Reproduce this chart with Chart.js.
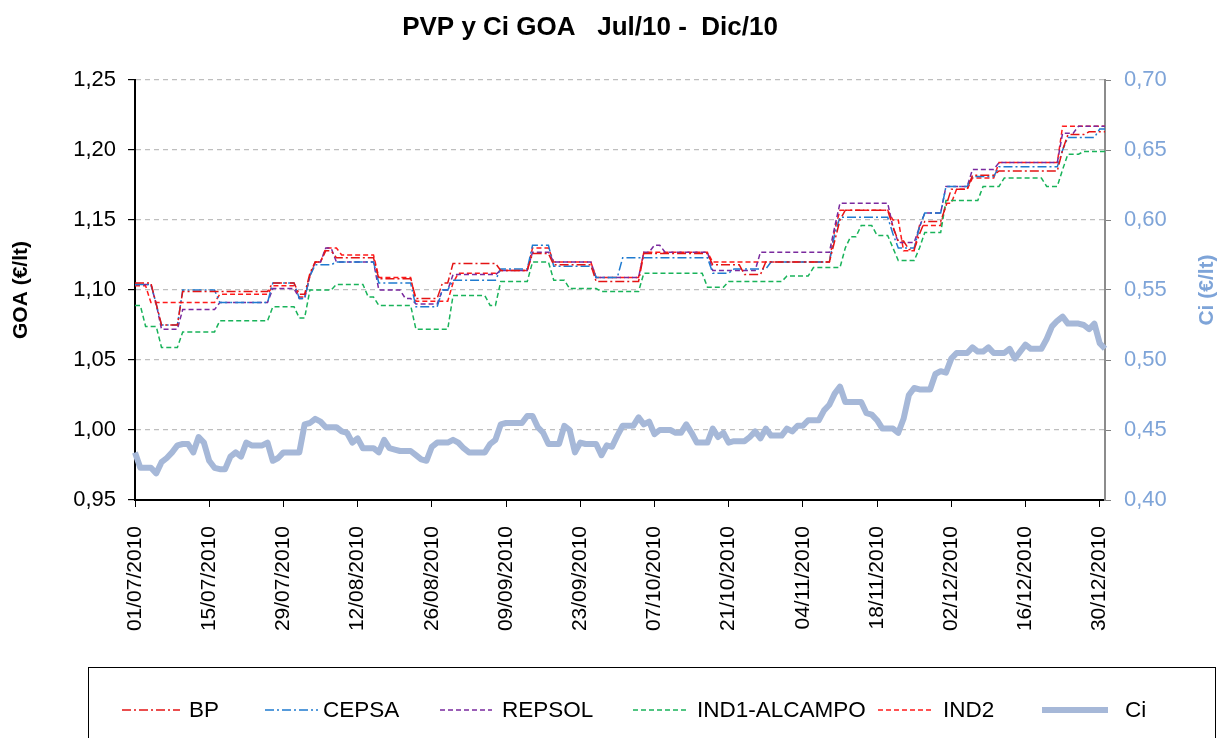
<!DOCTYPE html>
<html>
<head>
<meta charset="utf-8">
<script src="https://cdn.jsdelivr.net/npm/chart.js@4.4.1/dist/chart.umd.min.js"></script>
<style>
  body { margin: 0; background: #fff; }
</style>
</head>
<body>
<canvas id="chart" width="1229" height="738"></canvas>
<script>
// price steps: [day index from 01/07/2010, €/lt]
const bpSteps = [[0,1.105],[4,1.090],[5,1.075],[9,1.099],[26,1.105],[31,1.097],[33,1.112],[34,1.120],[36,1.128],[38,1.123],[46,1.108],[53,1.094],[58,1.105],[60,1.119],[69,1.114],[75,1.126],[79,1.118],[87,1.106],[96,1.126],[109,1.118],[115,1.111],[119,1.120],[132,1.135],[133,1.150],[134,1.157],[143,1.145],[144,1.135],[146,1.129],[148,1.140],[149,1.149],[153,1.160],[154,1.172],[158,1.182],[163,1.185],[175,1.200],[176,1.211],[180,1.213]];
const cepsaSteps = [[0,1.104],[4,1.090],[5,1.075],[9,1.100],[16,1.091],[26,1.105],[31,1.094],[33,1.110],[34,1.118],[38,1.120],[46,1.105],[53,1.088],[58,1.100],[60,1.107],[69,1.115],[75,1.132],[79,1.117],[87,1.109],[92,1.123],[109,1.112],[113,1.115],[120,1.120],[132,1.140],[133,1.152],[143,1.140],[144,1.130],[148,1.145],[149,1.155],[153,1.174],[158,1.181],[163,1.188],[175,1.200],[176,1.209],[182,1.215]];
const repsolSteps = [[0,1.104],[4,1.090],[5,1.072],[9,1.086],[16,1.091],[26,1.101],[31,1.094],[33,1.110],[34,1.120],[36,1.130],[38,1.120],[46,1.100],[51,1.094],[53,1.090],[58,1.100],[60,1.111],[69,1.114],[75,1.127],[79,1.120],[87,1.109],[96,1.127],[98,1.132],[100,1.127],[109,1.114],[118,1.127],[132,1.145],[133,1.162],[143,1.145],[144,1.134],[148,1.145],[149,1.155],[153,1.174],[158,1.186],[163,1.191],[175,1.212],[178,1.217]];
const ind1Steps = [[0,1.089],[2,1.074],[5,1.059],[9,1.070],[16,1.078],[26,1.088],[31,1.080],[33,1.100],[38,1.104],[44,1.095],[46,1.089],[53,1.072],[60,1.096],[67,1.089],[69,1.106],[75,1.120],[79,1.107],[82,1.101],[88,1.099],[96,1.112],[108,1.102],[112,1.106],[123,1.110],[128,1.116],[134,1.130],[135,1.138],[137,1.146],[140,1.139],[143,1.130],[144,1.121],[148,1.130],[149,1.141],[153,1.164],[160,1.174],[164,1.180],[172,1.174],[175,1.186],[176,1.197],[179,1.199]];
const ind2Steps = [[0,1.103],[3,1.091],[16,1.097],[26,1.103],[31,1.095],[33,1.110],[34,1.120],[36,1.130],[39,1.125],[46,1.109],[53,1.092],[60,1.105],[61,1.112],[69,1.114],[75,1.130],[79,1.120],[87,1.109],[96,1.127],[109,1.120],[132,1.143],[133,1.157],[143,1.150],[145,1.128],[148,1.146],[153,1.162],[155,1.172],[158,1.180],[163,1.191],[175,1.217]];

// Ci daily values (right axis)
const ciValues = [
  0.434,0.423,0.423,0.423,0.419,0.427,0.430,0.434,0.439,0.440,0.440,0.434,0.445,0.441,0.428,0.423,0.422,0.422,0.431,0.434,
  0.431,0.441,0.439,0.439,0.439,0.441,0.428,0.430,0.434,0.434,0.434,0.434,0.454,0.455,0.458,0.456,0.452,0.452,0.452,0.449,
  0.448,0.441,0.444,0.437,0.437,0.437,0.434,0.443,0.437,0.436,0.435,0.435,0.435,0.432,0.429,0.428,0.438,0.441,0.441,0.441,
  0.443,0.441,0.437,0.434,0.434,0.434,0.434,0.440,0.443,0.454,0.455,0.455,0.455,0.455,0.460,0.460,0.452,0.448,0.440,0.440,
  0.440,0.453,0.450,0.434,0.441,0.440,0.440,0.440,0.432,0.439,0.438,0.446,0.453,0.453,0.453,0.459,0.454,0.456,0.447,0.450,
  0.450,0.450,0.448,0.448,0.454,0.448,0.441,0.441,0.441,0.451,0.445,0.448,0.441,0.442,0.442,0.442,0.445,0.449,0.444,0.451,
  0.446,0.446,0.446,0.451,0.449,0.453,0.453,0.457,0.457,0.457,0.464,0.468,0.476,0.481,0.470,0.470,0.470,0.470,0.462,0.461,
  0.457,0.451,0.451,0.451,0.448,0.458,0.475,0.480,0.479,0.479,0.479,0.490,0.492,0.491,0.501,0.505,0.505,0.505,0.509,0.506,
  0.506,0.509,0.505,0.505,0.505,0.508,0.501,0.506,0.511,0.508,0.508,0.508,0.515,0.524,0.528,0.531,0.526,0.526,0.526,0.525,
  0.522,0.526,0.512,0.508
];

const startDate = Date.UTC(2010, 6, 1);
const numDays = ciValues.length;
const tickEvery = 14;

const pad = n => String(n).padStart(2, "0");
const dayLabels = [];
for (let i = 0; i < numDays; i++) {
  const d = new Date(startDate + i * 86400000);
  dayLabels.push(pad(d.getUTCDate()) + "/" + pad(d.getUTCMonth() + 1) + "/" + d.getUTCFullYear());
}

// turn the step lists into one value per day
function fromSteps(steps) {
  const out = [];
  let k = 0;
  for (let i = 0; i < numDays; i++) {
    while (k + 1 < steps.length && steps[k + 1][0] <= i) k++;
    out.push(steps[k][1]);
  }
  return out;
}

const comma = v => v.toFixed(2).replace(".", ",");
const FONT = "'Liberation Sans', Arial, sans-serif";
const CI_BLUE = "#7EA4D8";

// title, legend box under the axis and right axis title (bottom-to-top, as excel does)
const extras = {
  id: "extras",
  afterDraw(chart) {
    const ctx = chart.ctx;
    ctx.save();
    ctx.fillStyle = "#000";
    ctx.font = "bold 26px " + FONT;
    ctx.textAlign = "center";
    ctx.textBaseline = "middle";
    ctx.fillText("PVP y Ci GOA   Jul/10 -  Dic/10", 590, 28);

    const spots = [[122, 180, 189], [265, 318, 323], [440, 492, 502], [633, 688, 697], [878, 932, 943], [1042, 1108, 1125]];
    ctx.textAlign = "left";
    ctx.strokeStyle = "#000";
    ctx.lineWidth = 1;
    ctx.strokeRect(88.5, 667.5, 1127, 100);
    ctx.font = "22.5px " + FONT;
    chart.data.datasets.forEach((ds, i) => {
      const [a, b, t] = spots[i];
      ctx.strokeStyle = ds.borderColor;
      ctx.lineWidth = ds.borderWidth;
      ctx.setLineDash(ds.borderDash || []);
      ctx.beginPath();
      ctx.moveTo(a, 710);
      ctx.lineTo(b, 710);
      ctx.stroke();
      ctx.fillText(ds.label, t, 711);
    });

    ctx.setLineDash([]);
    ctx.translate(1207, 290);
    ctx.rotate(-Math.PI / 2);
    ctx.textAlign = "center";
    ctx.fillStyle = CI_BLUE;
    ctx.font = "bold 21px " + FONT;
    ctx.fillText("Ci (€/lt)", 0, 0);
    ctx.restore();
  }
};

new Chart(document.getElementById("chart"), {
  type: "line",
  data: {
    labels: dayLabels,
    datasets: [
      { label: "BP", data: fromSteps(bpSteps), borderColor: "#E41414", borderWidth: 1.5, borderDash: [9, 3, 2, 3], yAxisID: "y" },
      { label: "CEPSA", data: fromSteps(cepsaSteps), borderColor: "#1F7BD0", borderWidth: 1.5, borderDash: [9, 3, 2, 3], yAxisID: "y" },
      { label: "REPSOL", data: fromSteps(repsolSteps), borderColor: "#7A2A9E", borderWidth: 1.5, borderDash: [5, 3], yAxisID: "y" },
      { label: "IND1-ALCAMPO", data: fromSteps(ind1Steps), borderColor: "#19B35A", borderWidth: 1.5, borderDash: [5, 3], yAxisID: "y" },
      { label: "IND2", data: fromSteps(ind2Steps), borderColor: "#FF1A1A", borderWidth: 1.5, borderDash: [5, 3], yAxisID: "y" },
      { label: "Ci", data: ciValues, borderColor: "#A6B8D8", borderWidth: 6, borderJoinStyle: "round", yAxisID: "y1" }
    ]
  },
  options: {
    responsive: false,
    animation: false,
    elements: { point: { radius: 0 }, line: { tension: 0 } },
    layout: { padding: { top: 80 } },
    plugins: {
      legend: { display: false },
      tooltip: { enabled: false },
      title: { display: false }
    },
    scales: {
      x: {
        ticks: {
          autoSkip: false,
          minRotation: 90,
          maxRotation: 90,
          color: "#000",
          font: { family: FONT, size: 21 },
          padding: 19,
          callback: function (val, idx) {
            return idx % tickEvery === 0 ? this.getLabelForValue(val) : null;
          }
        },
        grid: { drawOnChartArea: false, tickLength: 7, tickColor: "#000", tickWidth: 1 },
        border: { color: "#000", width: 2 },
        afterFit: s => { s.height = 238; }
      },
      y: {
        position: "left",
        min: 0.95,
        max: 1.25,
        ticks: { stepSize: 0.05, color: "#000", font: { family: FONT, size: 22 }, padding: 12, callback: v => comma(v) },
        grid: { color: "#BEBEBE", lineWidth: 1.2, tickColor: "#000", tickLength: 7 },
        border: { color: "#000", width: 2, dash: [5, 4] },
        title: { display: true, text: "GOA (€/lt)", color: "#000", font: { family: FONT, size: 21, weight: "bold" }, padding: { top: 9, bottom: 0 } },
        afterFit: s => { s.width = 135; }
      },
      y1: {
        position: "right",
        min: 0.40,
        max: 0.70,
        ticks: { stepSize: 0.05, color: CI_BLUE, font: { family: FONT, size: 22 }, padding: 13, callback: v => comma(v) },
        grid: { drawOnChartArea: false, tickColor: "#808080", tickLength: 6 },
        border: { color: "#8C8C8C", width: 2 },
        afterFit: s => { s.width = 124; }
      }
    }
  },
  plugins: [extras]
});
</script>
</body>
</html>
